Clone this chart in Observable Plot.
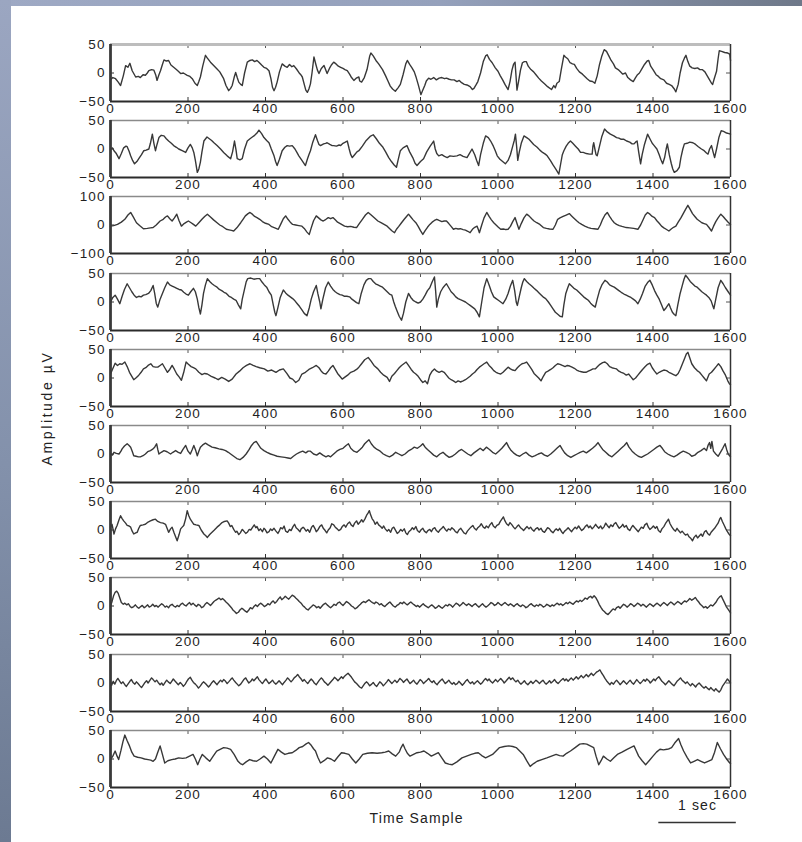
<!DOCTYPE html>
<html><head><meta charset="utf-8">
<script src="https://cdn.jsdelivr.net/npm/d3@7"></script>
<script src="https://cdn.jsdelivr.net/npm/@observablehq/plot@0.6"></script>
<style>
html,body{margin:0;padding:0;background:#fff;}
#page{position:relative;width:802px;height:842px;overflow:hidden;background:#fff;font-family:"Liberation Sans",Arial,sans-serif;color:#222;}
#bandTop{position:absolute;left:0;top:0;width:802px;height:6px;background:linear-gradient(to right,#9ea9c4,#95a1bc 55%,#6e7889);}
#bandLeft{position:absolute;left:0;top:0;width:11px;height:842px;background:linear-gradient(to bottom,#9ba6c1,#8391ab 55%,#6c7a92);}
.panel{position:absolute;left:0;}
#ylab{position:absolute;left:47px;top:408px;transform:translate(-50%,-50%) rotate(-90deg);white-space:nowrap;font-size:14px;letter-spacing:2.6px;}
</style></head>
<body><div id="page"><div id="bandTop"></div><div id="bandLeft"></div><div id="ylab">Amplitude µV</div></div>
<script>
const xTicks = [0,200,400,600,800,1000,1200,1400,1600];
const yTicks50 = [-50,0,50];
const yTicks100 = [-100,0,100];
const xLabel = "Time Sample";
const scaleBarLabel = "1 sec";
const scaleBar = [1415,1615];

const ch1 = [[0,-12],[6,-8],[13,-10],[20,-16],[26,-22],[33,-5],[39,13],[45,10],[50,17],[56,4],[65,-7],[72,-6],[77,-8],[84,-3],[90,-4],[95,0],[99,4],[106,6],[112,5],[117,-4],[120,-13],[125,-3],[129,4],[134,15],[138,23],[144,21],[150,22],[156,14],[163,10],[170,6],[175,3],[181,-1],[188,0],[198,-4],[205,-6],[211,-10],[218,-18],[224,-22],[228,-15],[232,-7],[238,12],[245,31],[250,26],[258,19],[265,14],[275,7],[282,2],[292,-10],[298,-22],[305,-31],[310,-27],[314,-22],[319,-8],[323,1],[327,-8],[331,-16],[336,-20],[340,-22],[346,0],[353,19],[360,22],[366,23],[372,20],[378,22],[383,19],[390,14],[396,10],[403,8],[409,4],[414,-10],[418,-25],[422,-31],[426,-25],[430,-16],[436,2],[443,16],[450,12],[456,10],[462,15],[468,11],[473,13],[480,7],[486,1],[491,-3],[495,-7],[500,-20],[504,-30],[508,-34],[512,-28],[516,-19],[520,0],[525,28],[530,15],[534,5],[538,-1],[544,8],[551,13],[555,6],[559,-1],[565,8],[570,14],[576,19],[582,16],[588,12],[594,10],[600,8],[605,6],[611,4],[617,-2],[622,-8],[628,-13],[634,-9],[641,-7],[643,-14],[648,-16],[655,-8],[662,6],[669,30],[672,35],[678,30],[685,22],[692,16],[702,6],[710,-5],[716,-14],[722,-23],[728,-28],[735,-32],[742,-26],[748,-20],[755,-3],[762,16],[766,22],[772,15],[778,9],[784,2],[788,-6],[794,-20],[801,-38],[806,-30],[811,-22],[815,-14],[821,-9],[827,-11],[834,-8],[841,-12],[848,-9],[855,-8],[862,-10],[867,-9],[874,-11],[880,-12],[887,-12],[894,-15],[900,-13],[906,-17],[913,-20],[920,-21],[928,-24],[934,-29],[938,-27],[944,-20],[948,-15],[955,0],[962,20],[968,30],[972,32],[978,24],[985,18],[993,9],[1000,3],[1006,-5],[1012,-12],[1018,-20],[1026,-29],[1031,-15],[1036,5],[1040,15],[1044,19],[1047,-10],[1049,-30],[1053,-15],[1058,5],[1063,18],[1068,20],[1073,20],[1078,12],[1085,6],[1092,2],[1098,-3],[1105,-9],[1112,-14],[1120,-19],[1128,-24],[1138,-29],[1144,-22],[1148,-26],[1152,-18],[1158,-15],[1163,5],[1170,31],[1174,28],[1180,25],[1186,18],[1192,16],[1197,15],[1203,8],[1210,2],[1218,-2],[1224,-6],[1230,-10],[1237,-14],[1244,-15],[1250,-18],[1256,-5],[1262,15],[1268,30],[1274,41],[1280,38],[1286,30],[1292,22],[1298,16],[1303,9],[1310,6],[1316,2],[1322,-2],[1329,0],[1335,-8],[1342,-12],[1349,-15],[1355,-8],[1360,-3],[1365,0],[1372,8],[1378,15],[1385,21],[1389,22],[1394,12],[1400,6],[1408,-3],[1414,-6],[1420,-10],[1428,-12],[1435,-18],[1442,-20],[1448,-22],[1455,-28],[1459,-33],[1465,-20],[1470,0],[1476,18],[1481,26],[1485,31],[1490,20],[1495,12],[1501,9],[1508,8],[1515,9],[1521,6],[1527,6],[1534,2],[1540,-5],[1546,-12],[1551,-18],[1554,-20],[1558,-10],[1564,3],[1568,25],[1571,39],[1577,38],[1585,36],[1593,35],[1598,33],[1600,22]];

const ch2 = [[0,0],[5,2],[9,-3],[15,-8],[22,-17],[28,-8],[34,2],[40,5],[43,4],[48,-4],[52,-12],[57,-20],[62,-26],[68,-22],[73,-17],[80,-10],[86,-3],[92,-2],[99,0],[103,10],[108,26],[112,10],[116,-3],[120,8],[125,20],[131,24],[138,23],[144,18],[150,14],[157,10],[163,6],[170,3],[176,0],[185,-3],[194,-6],[200,2],[206,8],[211,2],[215,-6],[219,-20],[224,-41],[228,-35],[232,-23],[236,-5],[241,14],[249,21],[255,18],[261,15],[267,11],[275,6],[284,0],[292,-6],[301,-12],[310,-17],[315,-5],[320,14],[324,-2],[327,-17],[334,-19],[340,-17],[346,0],[353,14],[360,18],[366,21],[372,24],[378,28],[383,33],[390,27],[396,20],[403,15],[409,11],[415,0],[422,-12],[426,-22],[430,-29],[436,-18],[443,-3],[450,3],[456,6],[462,5],[469,6],[476,0],[481,-6],[486,-12],[494,-20],[503,-29],[508,-18],[512,-10],[516,-3],[522,12],[529,25],[534,15],[538,8],[542,6],[550,9],[555,10],[559,11],[566,8],[572,6],[576,6],[583,5],[590,7],[594,6],[600,10],[606,12],[611,14],[616,0],[620,-10],[624,-15],[630,-10],[636,-5],[641,-3],[650,5],[660,15],[670,22],[678,25],[686,18],[694,10],[702,4],[710,-5],[718,-15],[725,-22],[732,-28],[738,-32],[742,-20],[748,-3],[755,2],[765,6],[772,-5],[780,-15],[786,-25],[791,-29],[800,-22],[808,-17],[816,-5],[825,5],[830,10],[834,14],[838,0],[842,-8],[847,-12],[855,-10],[862,-13],[869,-15],[876,-12],[885,-13],[894,-12],[902,-10],[910,-13],[920,-15],[926,-8],[933,0],[940,-10],[945,-20],[950,-29],[955,-10],[962,10],[968,23],[975,20],[981,14],[988,5],[993,-3],[998,-12],[1005,-18],[1012,-22],[1019,-26],[1026,-20],[1032,-10],[1038,5],[1042,15],[1045,26],[1048,5],[1051,-20],[1055,-5],[1060,10],[1067,23],[1074,20],[1080,17],[1084,14],[1092,8],[1101,3],[1108,-2],[1115,-6],[1122,-9],[1127,-12],[1135,-20],[1142,-28],[1150,-36],[1157,-44],[1162,-25],[1166,-10],[1170,-3],[1176,5],[1181,10],[1187,14],[1193,10],[1200,5],[1207,0],[1213,-6],[1220,-6],[1228,-8],[1236,-9],[1243,-9],[1245,5],[1247,11],[1250,0],[1253,-10],[1256,-12],[1262,5],[1268,22],[1275,35],[1282,30],[1290,26],[1299,23],[1306,20],[1312,19],[1318,17],[1325,17],[1332,14],[1340,12],[1346,9],[1351,9],[1355,12],[1359,14],[1363,-5],[1368,-26],[1372,-10],[1378,8],[1386,26],[1392,18],[1398,10],[1403,6],[1410,0],[1416,-10],[1420,-18],[1425,-26],[1430,-15],[1434,0],[1437,9],[1442,-10],[1447,-25],[1451,-35],[1455,-41],[1462,-38],[1468,-32],[1472,-15],[1477,0],[1481,9],[1488,10],[1495,12],[1503,11],[1510,8],[1517,4],[1525,0],[1532,-3],[1538,-7],[1542,-9],[1546,0],[1551,6],[1555,-5],[1559,-15],[1564,0],[1570,20],[1576,32],[1582,31],[1590,28],[1596,27],[1600,26]];

const ch3 = [[0,-4],[8,-2],[18,2],[28,10],[37,20],[45,35],[52,44],[58,30],[67,8],[75,-2],[85,-13],[95,-12],[103,-10],[110,-9],[118,0],[128,14],[136,20],[142,28],[147,32],[153,22],[159,14],[165,25],[171,38],[177,15],[183,-4],[190,5],[196,10],[201,14],[208,8],[214,2],[220,-4],[228,8],[236,20],[243,30],[250,38],[258,28],[266,18],[275,8],[282,0],[290,-6],[299,-15],[306,-17],[312,-19],[318,-21],[326,-10],[336,8],[342,20],[348,32],[355,40],[360,44],[366,38],[372,30],[378,26],[385,20],[392,12],[400,6],[409,2],[416,-6],[424,-10],[433,-15],[440,5],[446,22],[452,32],[458,20],[464,10],[470,2],[478,0],[486,-2],[494,-4],[500,-12],[507,-25],[513,-33],[518,-10],[524,15],[531,32],[537,25],[543,18],[549,14],[556,20],[562,26],[568,22],[574,26],[580,18],[586,10],[594,4],[604,-4],[612,-6],[620,-5],[628,-8],[635,-9],[642,5],[650,20],[658,35],[665,44],[672,36],[680,26],[690,14],[698,8],[706,2],[714,-4],[720,-12],[726,-20],[733,-27],[738,-15],[744,-5],[751,8],[758,20],[764,30],[769,38],[775,28],[781,18],[788,8],[794,-5],[800,-20],[806,-33],[812,-20],[818,-8],[824,2],[830,10],[836,16],[842,20],[848,16],[855,12],[861,14],[867,14],[873,5],[879,-5],[885,-15],[891,-12],[897,-14],[903,-13],[910,-16],[916,-18],[922,-22],[928,-27],[934,-15],[940,-8],[946,-4],[949,-15],[952,-27],[958,0],[964,25],[971,44],[977,30],[983,18],[989,8],[995,0],[1001,-8],[1007,-15],[1014,-14],[1020,-16],[1026,-15],[1032,-5],[1038,12],[1044,26],[1049,5],[1054,-15],[1060,5],[1067,25],[1074,38],[1080,32],[1087,22],[1093,14],[1100,8],[1108,2],[1117,-9],[1125,-12],[1133,-14],[1142,-15],[1148,0],[1154,20],[1160,25],[1168,30],[1176,35],[1184,40],[1190,32],[1196,24],[1203,15],[1209,8],[1216,2],[1224,-4],[1233,-9],[1240,-12],[1248,-13],[1258,-15],[1264,0],[1270,20],[1276,35],[1282,44],[1288,30],[1294,18],[1300,8],[1306,2],[1313,-2],[1320,-5],[1331,-9],[1340,-10],[1350,-12],[1361,-15],[1368,0],[1375,20],[1380,35],[1386,44],[1392,38],[1398,30],[1404,26],[1410,15],[1416,6],[1422,-4],[1428,-10],[1434,-15],[1441,-21],[1447,-14],[1453,-8],[1459,-4],[1465,10],[1472,25],[1478,40],[1484,55],[1490,69],[1496,55],[1502,40],[1508,30],[1514,20],[1520,14],[1526,8],[1532,5],[1538,2],[1544,-8],[1551,-21],[1556,-5],[1562,12],[1568,25],[1575,38],[1581,30],[1587,20],[1594,10],[1600,2]];

const ch4 = [[0,0],[6,8],[12,12],[18,5],[24,-3],[30,10],[36,22],[43,32],[49,25],[55,18],[61,12],[67,8],[73,10],[79,9],[85,12],[91,13],[98,15],[104,20],[110,29],[114,15],[118,-2],[122,-9],[128,5],[134,15],[140,25],[147,35],[153,30],[159,28],[165,26],[171,24],[177,22],[183,21],[189,17],[195,14],[201,12],[207,18],[214,24],[219,18],[224,5],[228,-10],[232,-21],[236,-5],[240,15],[245,30],[250,41],[256,36],[262,32],[268,29],[275,26],[281,22],[287,20],[293,17],[299,15],[306,10],[312,8],[318,5],[324,3],[330,-5],[336,-12],[340,5],[345,20],[350,35],[354,41],[362,42],[370,40],[378,41],[385,41],[391,35],[397,30],[403,26],[409,18],[415,12],[420,-5],[424,-18],[427,-24],[432,-10],[438,8],[446,21],[452,16],[458,12],[464,9],[470,6],[476,2],[482,-3],[488,-8],[494,-14],[500,-20],[507,-24],[513,-10],[518,5],[524,18],[531,29],[535,15],[540,0],[543,-12],[548,5],[555,25],[562,35],[568,28],[574,22],[580,18],[586,15],[592,13],[598,12],[604,10],[610,10],[617,9],[623,5],[629,2],[635,-1],[641,-3],[647,15],[654,30],[660,38],[666,41],[672,41],[678,36],[684,32],[690,30],[696,28],[702,26],[708,22],[714,18],[720,14],[726,12],[731,0],[735,-8],[739,-15],[745,-25],[751,-32],[756,-20],[762,0],[769,15],[775,8],[781,3],[788,0],[794,-2],[800,0],[806,5],[812,12],[818,20],[824,25],[830,35],[836,44],[839,20],[842,-9],[846,5],[852,18],[858,25],[864,30],[867,32],[873,25],[879,18],[885,14],[891,9],[897,6],[903,4],[910,2],[916,0],[922,-3],[928,-6],[934,-9],[940,-12],[946,-18],[952,-26],[958,0],[964,25],[971,41],[977,30],[983,18],[989,9],[995,6],[1001,3],[1007,0],[1013,-3],[1020,5],[1026,15],[1032,28],[1038,38],[1043,20],[1047,0],[1050,-6],[1055,10],[1060,25],[1064,35],[1068,41],[1074,36],[1080,32],[1087,28],[1093,24],[1100,20],[1106,16],[1112,12],[1118,8],[1123,6],[1130,0],[1136,-6],[1142,-12],[1148,-18],[1155,-22],[1160,-25],[1166,-26],[1170,-5],[1175,15],[1180,25],[1184,32],[1190,28],[1196,24],[1203,21],[1209,17],[1215,13],[1221,9],[1227,6],[1233,3],[1239,-2],[1245,-6],[1251,-9],[1256,5],[1262,20],[1268,30],[1276,38],[1282,35],[1288,30],[1294,28],[1300,26],[1306,23],[1312,20],[1318,17],[1325,14],[1331,12],[1337,10],[1343,8],[1349,5],[1355,2],[1361,-3],[1367,5],[1373,15],[1380,28],[1386,34],[1392,38],[1398,30],[1404,20],[1410,12],[1416,5],[1422,-5],[1428,-15],[1434,-10],[1441,-3],[1445,-10],[1450,-18],[1455,-22],[1459,-24],[1464,-5],[1470,15],[1476,30],[1480,40],[1484,47],[1490,42],[1496,36],[1502,32],[1508,28],[1514,26],[1520,22],[1526,18],[1532,15],[1538,12],[1544,8],[1550,2],[1554,-6],[1557,-12],[1562,5],[1568,25],[1575,38],[1581,32],[1587,25],[1594,18],[1600,12]];

const ch5 = [[0,7],[5,15],[12,26],[18,22],[24,25],[30,24],[37,28],[43,20],[49,10],[55,3],[60,-3],[67,1],[73,5],[79,10],[85,16],[91,18],[97,22],[104,25],[110,20],[116,19],[122,19],[128,22],[134,25],[140,18],[147,10],[153,15],[159,22],[165,15],[171,7],[177,2],[183,-4],[189,10],[195,28],[201,24],[208,20],[214,18],[220,16],[228,10],[236,6],[243,8],[250,7],[260,3],[270,0],[278,-3],[287,1],[296,-2],[305,-6],[314,-2],[324,7],[333,12],[342,18],[351,22],[360,25],[368,22],[376,20],[385,18],[397,16],[406,12],[416,14],[427,10],[436,14],[446,16],[455,8],[463,0],[470,-2],[478,-8],[486,-4],[494,7],[503,10],[512,15],[521,18],[531,22],[538,18],[544,12],[550,8],[556,7],[562,12],[568,18],[574,22],[580,15],[586,8],[592,3],[598,-2],[604,1],[612,5],[620,10],[628,12],[635,15],[641,19],[648,25],[656,32],[665,36],[672,30],[680,22],[690,16],[697,10],[705,5],[714,1],[720,-6],[726,3],[733,8],[739,13],[745,18],[751,22],[757,25],[763,28],[769,22],[776,15],[782,10],[788,7],[794,3],[800,-3],[806,-8],[812,-5],[818,-10],[824,5],[830,12],[836,16],[842,12],[848,10],[855,12],[861,10],[867,5],[873,0],[879,-3],[885,-5],[891,-8],[897,-5],[903,-7],[910,-5],[916,-3],[922,0],[928,3],[934,7],[940,10],[946,15],[952,19],[958,22],[964,25],[971,28],[977,22],[983,18],[989,13],[995,10],[1001,8],[1007,7],[1013,10],[1020,15],[1026,19],[1032,16],[1038,14],[1044,13],[1050,18],[1056,22],[1062,25],[1068,26],[1074,28],[1080,22],[1087,15],[1093,8],[1099,4],[1105,0],[1111,-5],[1117,3],[1123,10],[1129,12],[1136,15],[1142,18],[1148,22],[1154,25],[1160,24],[1166,22],[1173,20],[1179,22],[1185,21],[1191,19],[1197,17],[1203,14],[1209,12],[1215,11],[1221,10],[1227,10],[1233,12],[1239,14],[1245,16],[1251,16],[1257,20],[1263,24],[1270,27],[1276,28],[1282,25],[1288,20],[1294,18],[1300,17],[1306,16],[1312,12],[1318,10],[1325,8],[1331,5],[1337,7],[1343,2],[1349,-3],[1355,0],[1361,5],[1367,10],[1373,15],[1380,20],[1386,24],[1392,26],[1398,18],[1404,12],[1410,7],[1416,10],[1422,12],[1428,14],[1435,13],[1441,10],[1447,8],[1453,6],[1459,4],[1465,8],[1470,15],[1476,25],[1482,35],[1486,42],[1490,45],[1495,35],[1500,25],[1507,18],[1514,13],[1520,10],[1526,5],[1532,0],[1538,-5],[1545,7],[1551,10],[1557,15],[1563,20],[1569,25],[1575,20],[1581,12],[1587,5],[1593,-5],[1597,-10],[1600,-12]];

const ch6 = [[0,0],[5,-2],[9,3],[15,1],[22,0],[27,5],[30,9],[36,14],[43,18],[48,15],[52,12],[56,5],[60,-3],[66,-4],[72,-5],[77,-5],[84,-3],[90,0],[96,4],[103,6],[108,8],[114,12],[119,18],[122,8],[125,0],[131,3],[138,6],[146,4],[155,0],[161,3],[168,6],[175,3],[181,1],[187,8],[194,15],[200,5],[206,0],[211,8],[215,15],[220,6],[224,-3],[228,5],[232,12],[238,16],[245,19],[252,16],[262,12],[270,11],[280,9],[288,8],[297,6],[304,3],[310,0],[318,-4],[326,-8],[334,-10],[342,-6],[350,0],[358,8],[364,15],[370,20],[376,22],[382,16],[388,10],[396,6],[404,3],[413,0],[422,-2],[430,-4],[440,-5],[450,-6],[458,-7],[465,-8],[472,-4],[480,0],[488,3],[496,5],[504,2],[510,5],[516,5],[524,0],[532,-2],[540,2],[548,-2],[556,-5],[562,-3],[568,-5],[576,0],[584,5],[592,8],[600,10],[608,15],[614,18],[620,10],[628,5],[636,3],[644,8],[650,12],[656,18],[662,22],[667,25],[673,18],[680,12],[688,8],[696,5],[704,0],[712,-3],[720,-5],[728,-2],[736,3],[744,0],[752,-3],[760,0],[768,5],[776,8],[784,12],[792,10],[800,14],[806,18],[812,12],[818,8],[826,3],[834,-2],[842,-5],[850,0],[858,3],[866,-2],[874,-6],[882,-4],[890,0],[898,5],[906,8],[914,4],[922,0],[930,-3],[938,2],[946,6],[954,10],[962,6],[970,12],[978,8],[986,3],[994,0],[1002,5],[1010,10],[1016,15],[1022,20],[1028,12],[1034,6],[1040,2],[1048,-2],[1056,-4],[1064,0],[1072,3],[1080,-2],[1088,-5],[1096,-3],[1104,0],[1112,2],[1120,-2],[1128,-4],[1136,0],[1144,5],[1152,10],[1160,15],[1166,8],[1172,2],[1180,-3],[1188,-6],[1196,-3],[1204,0],[1212,3],[1220,5],[1228,2],[1236,6],[1244,10],[1252,15],[1258,20],[1264,14],[1270,8],[1278,3],[1286,-2],[1294,-5],[1302,0],[1310,5],[1318,10],[1326,15],[1332,20],[1338,12],[1346,5],[1354,0],[1362,-4],[1370,-6],[1378,-3],[1386,0],[1394,4],[1402,8],[1410,12],[1418,15],[1424,10],[1430,4],[1438,0],[1446,-3],[1454,-5],[1462,-2],[1470,2],[1478,5],[1486,3],[1494,0],[1500,-4],[1508,-2],[1516,3],[1524,6],[1532,10],[1538,6],[1542,15],[1546,20],[1549,10],[1552,22],[1556,5],[1562,0],[1568,-4],[1574,3],[1580,10],[1586,18],[1590,8],[1594,0],[1600,-5]];

const ch7 = [[0,5],[4,10],[9,-7],[13,2],[17,8],[22,18],[26,25],[30,20],[34,16],[39,12],[43,8],[48,7],[52,5],[56,-2],[60,-7],[65,-5],[69,-4],[73,3],[77,8],[84,9],[90,10],[97,14],[103,16],[110,18],[116,19],[122,15],[129,13],[136,12],[142,10],[146,3],[150,-4],[155,2],[159,5],[164,-5],[168,-12],[172,-19],[177,-8],[181,2],[185,5],[189,8],[194,20],[198,34],[202,25],[206,19],[211,14],[215,10],[221,9],[228,8],[234,0],[241,-7],[246,-10],[250,-13],[256,-8],[262,-4],[268,0],[275,5],[282,9],[288,13],[294,15],[301,16],[305,12],[309,6],[313,8],[318,1],[323,-4],[326,-2],[331,-8],[335,-5],[340,1],[343,-1],[349,-6],[353,-4],[358,1],[362,0],[367,5],[371,9],[375,4],[378,6],[383,-1],[387,2],[392,-3],[396,3],[399,1],[404,-5],[409,-3],[413,2],[417,-1],[422,3],[427,-2],[432,-6],[436,-1],[439,4],[444,2],[448,7],[452,-2],[457,-4],[462,1],[466,-1],[471,6],[475,10],[479,4],[484,1],[489,-3],[492,2],[497,5],[500,3],[505,-2],[509,1],[514,-4],[519,5],[523,8],[528,2],[531,-3],[536,1],[540,6],[545,9],[549,3],[554,-1],[558,-5],[562,0],[567,4],[571,11],[576,9],[580,5],[585,2],[589,-1],[594,1],[598,6],[603,9],[607,5],[612,11],[617,14],[621,9],[626,6],[630,12],[635,16],[639,10],[643,13],[648,18],[652,14],[657,20],[661,26],[665,30],[668,34],[671,27],[675,20],[680,15],[683,10],[688,14],[692,9],[697,6],[701,3],[705,7],[709,2],[714,-2],[718,1],[723,-4],[727,3],[731,5],[736,-1],[740,-6],[745,-3],[749,1],[753,-2],[758,2],[762,-5],[766,-8],[770,-3],[775,0],[779,4],[783,1],[788,6],[792,-1],[797,-4],[801,0],[806,3],[810,-2],[815,-5],[819,-1],[824,1],[828,-3],[832,2],[837,4],[841,-1],[846,-4],[850,0],[855,3],[859,6],[864,1],[868,-2],[872,2],[877,0],[881,4],[886,1],[890,-3],[895,-5],[899,0],[904,3],[908,-1],[912,-5],[917,-7],[921,-2],[926,2],[930,5],[935,8],[939,3],[944,0],[948,4],[953,7],[957,11],[962,5],[966,3],[970,7],[975,4],[979,9],[984,13],[988,7],[993,4],[997,8],[1002,10],[1006,15],[1010,19],[1014,23],[1018,16],[1022,11],[1027,8],[1031,13],[1036,9],[1040,5],[1044,2],[1049,6],[1053,9],[1058,4],[1062,2],[1066,-1],[1071,3],[1075,6],[1080,2],[1084,5],[1088,1],[1093,-2],[1097,2],[1102,4],[1106,0],[1111,3],[1115,-2],[1120,-4],[1124,0],[1128,4],[1133,2],[1137,-2],[1142,-5],[1146,-1],[1150,2],[1155,-1],[1159,3],[1164,-3],[1168,-6],[1172,-2],[1177,1],[1181,4],[1186,0],[1190,-3],[1194,1],[1199,5],[1203,2],[1208,7],[1212,3],[1216,-1],[1221,2],[1225,6],[1230,9],[1234,4],[1238,7],[1243,2],[1247,5],[1252,10],[1256,6],[1260,3],[1265,7],[1269,2],[1274,6],[1278,12],[1282,8],[1287,4],[1291,9],[1296,6],[1300,11],[1304,13],[1309,7],[1313,3],[1318,6],[1322,10],[1326,5],[1331,8],[1335,2],[1340,-1],[1344,4],[1348,8],[1353,4],[1357,1],[1362,-3],[1366,1],[1370,5],[1375,3],[1379,9],[1384,12],[1388,5],[1392,1],[1397,4],[1401,7],[1406,3],[1410,6],[1414,-1],[1419,-4],[1423,2],[1428,6],[1432,11],[1436,15],[1440,19],[1444,11],[1449,5],[1453,1],[1458,-2],[1462,3],[1466,-1],[1471,-5],[1475,-2],[1480,-6],[1484,-9],[1489,-7],[1493,-12],[1498,-15],[1502,-19],[1506,-13],[1511,-9],[1515,-14],[1520,-10],[1524,-7],[1528,-11],[1533,-3],[1537,-1],[1541,-6],[1546,-9],[1550,-4],[1555,0],[1559,3],[1564,8],[1568,12],[1572,19],[1575,22],[1579,15],[1584,8],[1588,2],[1592,-3],[1596,-7],[1600,-10]];

const ch8 = [[0,0],[4,8],[8,18],[12,24],[16,26],[20,22],[24,14],[28,6],[33,3],[37,5],[42,2],[46,4],[51,-1],[55,-3],[60,-1],[64,2],[69,-2],[73,-4],[78,-1],[82,1],[87,-3],[91,-1],[96,2],[100,-2],[105,0],[109,3],[114,-1],[118,1],[123,-2],[127,1],[132,4],[136,2],[141,-2],[145,0],[150,-3],[154,1],[159,3],[163,0],[168,-2],[172,1],[177,-1],[181,3],[186,5],[190,2],[195,0],[199,3],[204,6],[208,2],[213,5],[217,2],[222,-1],[226,3],[231,1],[235,-3],[240,-1],[244,3],[249,6],[253,4],[258,1],[262,4],[267,8],[271,10],[276,12],[280,14],[285,11],[289,13],[294,10],[298,7],[303,4],[307,1],[312,-3],[316,-7],[321,-10],[325,-13],[330,-11],[334,-7],[339,-4],[343,-6],[348,-9],[352,-11],[357,-7],[361,-3],[366,-5],[370,-1],[375,2],[379,-1],[384,3],[388,5],[393,2],[397,-1],[402,1],[406,4],[411,2],[415,6],[420,9],[424,5],[429,8],[433,12],[438,16],[442,11],[447,14],[451,17],[456,14],[460,12],[465,16],[469,19],[474,17],[478,14],[483,11],[487,8],[492,5],[496,1],[501,-2],[505,-5],[510,-7],[514,-4],[519,-1],[523,2],[528,0],[532,-3],[537,-1],[541,-4],[546,0],[550,3],[555,5],[559,2],[564,-1],[568,-3],[573,0],[577,3],[582,1],[586,5],[591,7],[595,4],[600,1],[604,4],[609,8],[613,6],[618,3],[622,0],[627,-2],[631,-5],[636,-3],[640,0],[645,3],[649,6],[654,8],[658,6],[663,9],[667,11],[672,8],[676,6],[681,4],[685,7],[690,5],[694,2],[699,4],[703,1],[708,-1],[712,2],[717,5],[721,7],[726,3],[730,0],[735,-2],[739,1],[744,3],[748,6],[753,4],[757,7],[762,4],[766,2],[771,5],[775,7],[780,4],[784,2],[789,-1],[793,1],[798,-2],[802,1],[807,4],[811,1],[816,-1],[820,-3],[825,0],[829,2],[834,-1],[838,-4],[843,-2],[847,1],[852,-2],[856,-4],[861,-1],[865,2],[870,0],[874,3],[879,1],[883,-2],[888,2],[892,5],[897,3],[901,0],[906,3],[910,6],[915,3],[919,1],[924,4],[928,2],[933,-1],[937,2],[942,4],[946,1],[951,-2],[955,1],[960,4],[964,1],[969,-2],[973,0],[978,3],[982,6],[987,4],[991,1],[996,3],[1000,6],[1005,3],[1009,1],[1014,4],[1018,6],[1023,3],[1027,1],[1032,4],[1036,2],[1041,-1],[1045,2],[1050,4],[1054,1],[1059,-1],[1063,2],[1068,0],[1072,-3],[1077,-1],[1081,2],[1086,4],[1090,1],[1095,-1],[1099,2],[1104,0],[1108,3],[1113,1],[1117,-2],[1122,0],[1126,3],[1131,1],[1135,-1],[1140,2],[1144,0],[1149,3],[1153,5],[1158,2],[1162,4],[1167,1],[1171,3],[1176,6],[1180,4],[1185,7],[1189,5],[1194,3],[1198,6],[1203,9],[1207,7],[1212,10],[1216,8],[1221,11],[1225,14],[1230,12],[1234,15],[1239,17],[1243,14],[1248,18],[1252,15],[1257,9],[1261,3],[1266,-3],[1270,-7],[1275,-10],[1279,-13],[1284,-15],[1288,-12],[1293,-8],[1297,-5],[1302,-7],[1306,-3],[1311,-1],[1315,-4],[1320,0],[1324,3],[1329,1],[1333,-2],[1338,1],[1342,4],[1347,2],[1351,-1],[1356,2],[1360,5],[1365,3],[1369,0],[1374,3],[1378,1],[1383,-2],[1387,1],[1392,4],[1396,2],[1401,-1],[1405,2],[1410,5],[1414,3],[1419,0],[1423,3],[1428,6],[1432,4],[1437,1],[1441,4],[1446,7],[1450,5],[1455,2],[1459,5],[1464,8],[1468,6],[1473,3],[1477,6],[1482,9],[1486,7],[1491,10],[1495,13],[1500,10],[1504,12],[1509,15],[1513,11],[1518,7],[1522,3],[1527,0],[1531,-3],[1536,-1],[1540,-4],[1545,-1],[1549,2],[1554,0],[1558,3],[1563,7],[1567,12],[1572,16],[1576,18],[1580,12],[1585,5],[1589,-1],[1594,-6],[1598,-10],[1600,-12]];

const ch9 = [[0,0],[3,-4],[7,3],[11,-2],[15,4],[19,8],[24,3],[28,-1],[32,2],[37,-3],[41,-6],[45,-2],[50,3],[54,6],[58,1],[63,-2],[67,2],[71,-1],[76,-5],[80,-8],[84,-4],[89,1],[93,4],[97,0],[102,5],[106,9],[110,6],[115,2],[119,5],[123,1],[128,-3],[132,0],[136,-4],[141,1],[145,5],[149,2],[154,-1],[158,3],[162,7],[167,3],[171,0],[175,-3],[180,1],[184,-2],[188,-6],[193,-2],[197,3],[201,7],[206,10],[210,5],[214,1],[219,-2],[223,-5],[227,-9],[232,-5],[236,-1],[240,2],[245,-1],[249,-4],[253,-7],[258,-3],[262,1],[266,4],[271,0],[275,-3],[279,1],[284,5],[288,2],[292,6],[297,3],[301,-1],[305,2],[310,6],[314,9],[318,5],[323,1],[327,-2],[331,-5],[336,-2],[340,2],[344,6],[349,9],[353,4],[357,0],[362,3],[366,7],[370,4],[375,8],[379,11],[383,6],[388,2],[392,-1],[396,3],[401,7],[405,3],[409,-1],[414,2],[418,5],[422,1],[427,-2],[431,1],[435,4],[440,0],[444,-3],[448,1],[453,5],[457,9],[461,6],[466,2],[470,5],[474,9],[479,12],[483,15],[487,11],[492,7],[496,3],[500,6],[505,2],[509,-1],[513,3],[518,7],[522,4],[526,0],[531,-3],[535,1],[539,5],[544,9],[548,6],[552,2],[557,-1],[561,-4],[565,-1],[570,3],[574,6],[578,10],[583,7],[587,4],[591,7],[596,11],[600,8],[604,12],[609,15],[613,17],[617,14],[622,10],[626,6],[630,2],[635,-1],[639,-4],[643,-7],[648,-9],[652,-5],[656,-1],[661,2],[665,-1],[669,-5],[674,-2],[678,1],[682,-3],[687,-6],[691,-2],[695,2],[700,-1],[704,-5],[708,-2],[713,2],[717,6],[721,3],[726,-1],[730,2],[734,5],[739,1],[743,4],[747,8],[752,5],[756,1],[760,4],[765,7],[769,3],[773,-1],[778,2],[782,5],[786,1],[791,-2],[795,2],[799,6],[804,3],[808,-1],[812,2],[817,5],[821,8],[825,4],[830,1],[834,4],[838,0],[843,-3],[847,1],[851,4],[856,7],[860,3],[864,-1],[869,2],[873,5],[877,1],[882,-2],[886,1],[890,-3],[895,-1],[899,3],[903,0],[908,-4],[912,-1],[916,3],[921,6],[925,2],[929,-1],[934,2],[938,-2],[942,1],[947,4],[951,1],[955,-2],[960,1],[964,5],[968,8],[973,4],[977,7],[981,3],[986,0],[990,3],[994,6],[999,2],[1003,5],[1007,8],[1012,4],[1016,0],[1020,3],[1025,7],[1029,10],[1033,6],[1038,9],[1042,5],[1046,2],[1051,5],[1055,1],[1059,-2],[1064,1],[1068,4],[1072,0],[1077,-3],[1081,0],[1085,3],[1090,-1],[1094,2],[1098,5],[1103,2],[1107,-1],[1111,2],[1116,5],[1120,1],[1124,-2],[1129,1],[1133,4],[1137,0],[1142,3],[1146,6],[1150,2],[1155,-1],[1159,2],[1163,5],[1168,8],[1172,4],[1176,7],[1181,3],[1185,6],[1189,9],[1194,5],[1198,8],[1202,11],[1207,7],[1211,10],[1215,13],[1220,9],[1224,12],[1228,15],[1233,11],[1237,14],[1241,17],[1246,13],[1250,16],[1254,19],[1259,21],[1263,23],[1267,18],[1272,13],[1276,8],[1280,4],[1285,0],[1289,-3],[1293,1],[1298,-2],[1302,2],[1306,5],[1311,1],[1315,-3],[1319,0],[1324,4],[1328,1],[1332,-2],[1337,2],[1341,5],[1345,1],[1350,-2],[1354,2],[1358,6],[1363,2],[1367,-1],[1371,2],[1376,6],[1380,3],[1384,7],[1389,4],[1393,0],[1397,3],[1402,7],[1406,4],[1410,8],[1415,11],[1419,7],[1423,3],[1428,0],[1432,-3],[1436,0],[1441,4],[1445,1],[1449,-2],[1454,-5],[1458,-1],[1462,3],[1467,6],[1471,9],[1475,5],[1480,2],[1484,-1],[1488,2],[1493,-2],[1497,-5],[1501,-1],[1506,-4],[1510,-7],[1514,-3],[1519,0],[1523,-3],[1527,-6],[1532,-9],[1536,-6],[1540,-9],[1545,-12],[1549,-8],[1553,-11],[1558,-14],[1562,-10],[1566,-13],[1571,-16],[1575,-12],[1579,-6],[1584,-1],[1588,3],[1592,7],[1597,3],[1600,0]];

const ch10 = [[0,-1],[6,5],[12,14],[17,5],[21,-1],[27,15],[32,30],[37,42],[43,32],[49,23],[55,12],[61,5],[70,3],[79,2],[88,0],[97,-1],[104,-2],[110,-4],[116,0],[122,12],[128,23],[134,8],[140,-7],[148,-3],[158,-1],[167,0],[176,2],[186,1],[195,2],[204,5],[213,8],[219,0],[225,-10],[231,0],[237,8],[246,2],[256,-4],[265,5],[274,14],[283,17],[292,20],[301,19],[310,17],[319,8],[329,-4],[335,-8],[341,-10],[350,-5],[359,-1],[368,-3],[377,-4],[386,0],[396,5],[405,0],[414,-7],[423,5],[432,17],[441,12],[450,8],[459,10],[469,11],[478,15],[487,20],[496,22],[504,26],[511,29],[518,24],[524,18],[529,14],[535,3],[542,-7],[551,-3],[560,2],[569,0],[578,-4],[587,4],[596,11],[605,10],[615,8],[624,0],[633,-7],[642,0],[651,8],[663,10],[675,11],[688,10],[700,11],[709,12],[718,14],[727,9],[736,5],[745,12],[750,20],[755,26],[760,18],[766,10],[773,5],[782,8],[791,11],[800,12],[809,14],[818,10],[828,5],[837,8],[846,11],[855,2],[864,-7],[873,-9],[882,-10],[894,-5],[907,2],[919,5],[931,8],[940,10],[949,11],[958,6],[968,2],[977,5],[986,8],[995,14],[1004,20],[1016,22],[1028,23],[1038,22],[1047,20],[1056,14],[1065,8],[1074,-3],[1083,-13],[1092,-8],[1101,-4],[1113,-1],[1126,2],[1138,5],[1150,8],[1159,6],[1168,5],[1177,10],[1187,14],[1199,20],[1211,26],[1220,27],[1229,26],[1238,23],[1247,20],[1253,5],[1260,-10],[1266,-3],[1272,5],[1281,0],[1290,-4],[1299,2],[1308,8],[1320,12],[1333,17],[1342,20],[1351,23],[1357,14],[1363,5],[1372,-3],[1381,-10],[1390,-3],[1400,5],[1409,12],[1418,17],[1427,16],[1436,17],[1442,18],[1448,20],[1456,28],[1466,36],[1472,25],[1479,14],[1488,3],[1497,-7],[1506,-4],[1515,-1],[1524,-4],[1533,-7],[1542,-4],[1552,-1],[1559,12],[1566,29],[1574,18],[1582,8],[1590,0],[1598,-7],[1600,-8]];

const channels = [ch1, ch2, ch3, ch4, ch5, ch6, ch7, ch8, ch9, ch10];
const channelTicks = [yTicks50, yTicks50, yTicks100, yTicks50, yTicks50, yTicks50, yTicks50, yTicks50, yTicks50, yTicks50];

const W = 802, ML = 110, MR = 72, PH = 57, MT = 8, MB = 20, TOP0 = 44, PITCH = 76.2;
const FW = W - ML - MR;
const fmtY = d => d < 0 ? "\u2212" + (-d) : String(d);
const page = document.getElementById("page");

channels.forEach((data, i) => {
  const yt = channelTicks[i];
  const lo = yt[0], hi = yt[yt.length - 1];
  const last = i === channels.length - 1;
  const mb = last ? 48 : MB;
  const marks = [
    Plot.ruleX(xTicks.slice(1, -1), {x: d => d, insetTop: PH - 4, stroke: "#333", strokeWidth: 1}),
    Plot.ruleX(xTicks.slice(1, -1), {x: d => d, insetBottom: PH - 4, stroke: "#555", strokeWidth: 1}),
    Plot.ruleY(yt, {y: d => d, insetRight: FW - 4, stroke: "#333", strokeWidth: 1}),
    Plot.ruleY(yt, {y: d => d, insetLeft: FW - 4, stroke: "#555", strokeWidth: 1}),
    Plot.line(data, {x: d => d[0], y: d => d[1], stroke: "#383838", strokeWidth: 1.4, strokeLinejoin: "round"}),
    Plot.ruleY([hi], {stroke: i === 0 ? "#bdbdbd" : "#8a8a8a", strokeWidth: i === 0 ? 3 : 1.5}),
    Plot.ruleX([xTicks[xTicks.length - 1]], {stroke: "#333", strokeWidth: 1.5}),
    Plot.ruleY([lo], {stroke: "#2b2b2b", strokeWidth: 2.2}),
    Plot.ruleX([xTicks[0]], {stroke: "#3a3a3a", strokeWidth: 2.8}),
    Plot.axisX({ticks: xTicks, tickSize: 0, tickPadding: 2, tickFormat: d => String(d), label: null, fontSize: 13.5}),
    Plot.axisY({ticks: yt, tickSize: 0, tickPadding: 5, tickFormat: fmtY, label: null, fontSize: 13.5})
  ];
  if (last) {
    marks.push(
      Plot.text([xLabel], {x: 790, y: lo, text: d => d, dy: 31, fontSize: 14, fill: "#222"}),
      Plot.text([scaleBarLabel], {x: (scaleBar[0] + scaleBar[1]) / 2, y: lo, text: d => d, dy: 18, fontSize: 14, fill: "#222"}),
      Plot.ruleY([lo], {x1: scaleBar[0], x2: scaleBar[1], dy: 35, stroke: "#333", strokeWidth: 1.6})
    );
  }
  const svg = Plot.plot({
    width: W, height: PH + MT + mb,
    marginLeft: ML, marginRight: MR, marginTop: MT, marginBottom: mb,
    x: {domain: [xTicks[0], xTicks[xTicks.length - 1]]},
    y: {domain: [lo, hi]},
    style: {background: "transparent", fontFamily: "'Liberation Sans', Arial, sans-serif", fontSize: "13.5px", color: "#1f1f1f", letterSpacing: "1.1px", overflow: "visible"},
    marks
  });
  const div = document.createElement("div");
  div.className = "panel";
  div.style.top = Math.round(TOP0 + PITCH * i - MT) + "px";
  div.appendChild(svg);
  page.appendChild(div);
});
</script>
</body></html>
